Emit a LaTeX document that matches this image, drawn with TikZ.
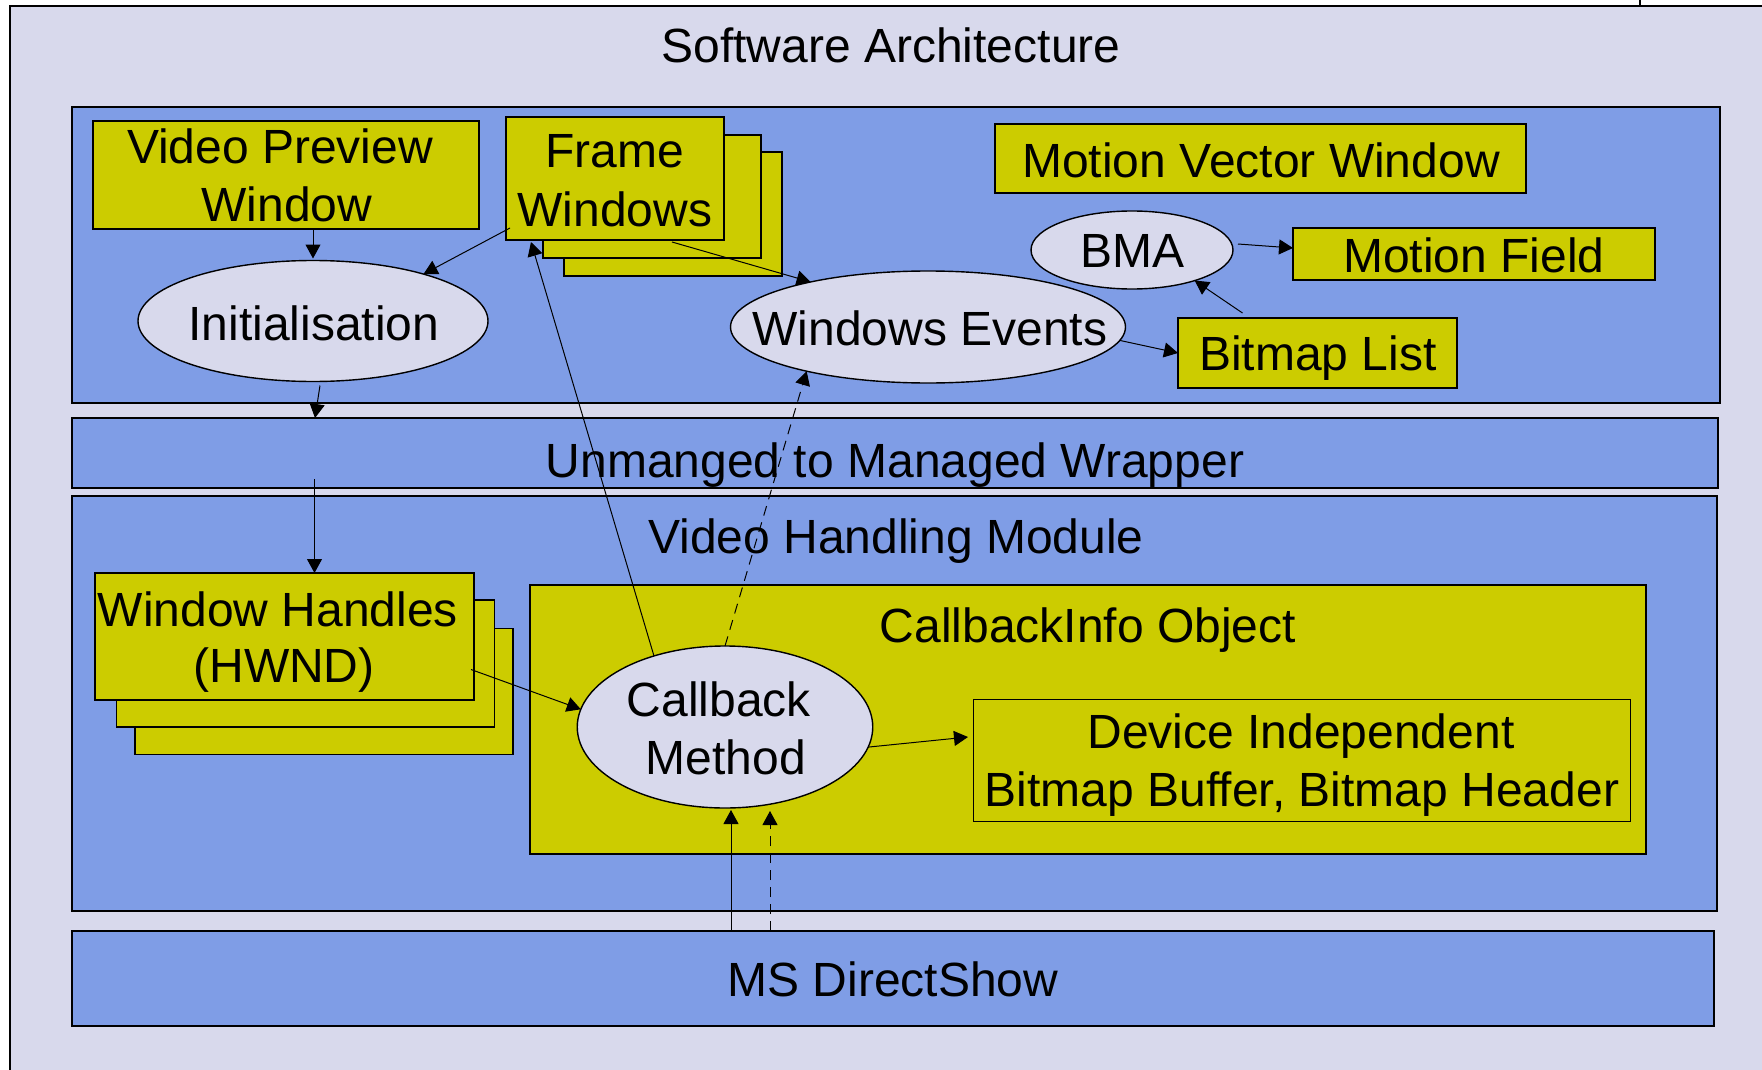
\documentclass[tikz,border=0pt]{standalone}
\usepackage{fontspec}
\setmainfont{Liberation Sans}
\usetikzlibrary{arrows.meta,calc,shapes.geometric}
\definecolor{lav}{RGB}{216,217,236}
\definecolor{panelblue}{RGB}{127,157,230}
\definecolor{olive}{RGB}{204,204,0}

\begin{document}
\begin{tikzpicture}[x=0.5pt,y=-0.5pt,
  panel/.style={rectangle,draw=black,fill=panelblue,line width=0.7pt,inner sep=0pt,outer sep=0pt},
  ybox/.style={rectangle,draw=black,fill=olive,line width=0.7pt,inner sep=0pt,outer sep=0pt},
  oval/.style={ellipse,draw=black,fill=lav,line width=0.7pt,inner sep=0pt,outer sep=0pt},
  txt/.style={anchor=base,inner sep=0pt,font=\fontsize{24pt}{29pt}\selectfont},
  link/.style={line width=0.5pt,-{Triangle[length=7pt,width=7.5pt]}},
  dlink/.style={link,dash pattern=on 5pt off 3.5pt},
]
\useasboundingbox (0,0) rectangle (1762,1070);

% page frame
\fill[lav] (10,6) rectangle (1762,1070);
\draw[line width=0.75pt] (10,1070) -- (10,6) -- (1762,6);
\draw[line width=0.75pt] (1640,0) -- (1640,6);
\node[txt] (title) at (891,63) {Software Architecture};

% layers
\node[panel,minimum width=824pt,minimum height=148pt] (gui) at (896,255) {};
\node[panel,minimum width=823pt,minimum height=35pt] (wrap) at (895,453) {};
\node[txt] (wrap-t) at (895,477) {Unmanged to Managed Wrapper};
\node[panel,minimum width=822.5pt,minimum height=207.5pt] (vhm) at (894.5,703.5) {};
\node[txt] (vhm-t) at (896,553) {Video Handling Module};
\node[panel,minimum width=821pt,minimum height=47.5pt] (ds) at (893,978.5) {};
\node[txt] (ds-t) at (893,996) {MS DirectShow};

% GUI layer
\node[ybox,minimum width=193pt,minimum height=54pt] (vpw) at (286,175) {};
\node[txt] (vpw-t1) at (280,163) {Video Preview};
\node[txt] (vpw-t2) at (287,221) {Window};

\node[ybox,minimum width=109pt,minimum height=62pt] (fw3) at (673,214) {};
\node[ybox,minimum width=109pt,minimum height=61.5pt] (fw2) at (652,196.5) {};
\node[ybox,minimum width=109pt,minimum height=61.5pt] (fw) at (615,178.5) {};
\node[txt] (fw-t1) at (615,168) {Frame};
\node[txt] (fw-t2) at (615,227) {Windows};

\node[oval,minimum width=175pt,minimum height=60.5pt] (init) at (313,321) {};
\node[txt] (init-t) at (314,340) {Initialisation};

\node[oval,minimum width=197.5pt,minimum height=56pt] (we) at (928,327) {};
\node[txt] (we-t) at (930,345) {Windows Events};

\node[ybox,minimum width=265.5pt,minimum height=34.5pt] (mvw) at (1260.5,158.5) {};
\node[txt] (mvw-t) at (1261,177) {Motion Vector Window};

\node[oval,minimum width=101pt,minimum height=39pt] (bma) at (1132,250) {};
\node[txt] (bma-t) at (1132,267) {BMA};

\node[ybox,minimum width=181pt,minimum height=26pt] (mf) at (1474,254) {};
\node[txt] (mf-t) at (1474,272) {Motion Field};

\node[ybox,minimum width=139.5pt,minimum height=35pt] (bl) at (1317.5,353) {};
\node[txt] (bl-t) at (1318,370) {Bitmap List};

% video handling layer
\node[ybox,minimum width=189pt,minimum height=63pt] (wh3) at (324,691.5) {};
\node[ybox,minimum width=189pt,minimum height=63.5pt] (wh2) at (305.5,663.5) {};
\node[ybox,minimum width=189.5pt,minimum height=63.5pt] (wh) at (284.5,636.5) {};
\node[txt] (wh-t1) at (278,626) {Window Handles};
\node[txt] (wh-t2) at (284,682) {(HWND)};

\node[ybox,minimum width=558pt,minimum height=134.5pt] (cbi) at (1088,719.5) {};
\node[txt] (cbi-t) at (1088,642) {CallbackInfo Object};

\node[oval,minimum width=147.75pt,minimum height=81pt] (cb) at (725,727) {};
\node[txt] (cb-t1) at (719,716) {Callback};
\node[txt] (cb-t2) at (726,774) {Method};

\node[ybox,line width=0.5pt,minimum width=328.5pt,minimum height=61pt] (dev) at (1301.5,760) {};
\node[txt] (dev-t1) at (1301,748) {Device Independent};
\node[txt] (dev-t2) at (1302,806) {Bitmap Buffer, Bitmap Header};

% connectors
\draw[link] (vpw.south -| init.north) -- ($(init.north)+(0,-2)$);
\draw[link] ($(fw.south west)+(4,-12)$) -- (init.23);
\draw[link] ($(fw.south)+(57,2)$) -- (we.159);
\draw[link] ($(init.south)+(7,4)$) -- ($(init.south |- wrap.north)+(2,0)$);
\draw[link] ($(wh.north |- wrap.south)+(30,-9)$) -- ($(wh.north)+(30,0)$);
\draw[link] (cb.135) -- ($(fw.south west)+(25,2)$);
\draw[dlink] (cb.north) -- (we.200);
\draw[link] ($(wh.east)+(-3,33)$) -- (cb.173);
\draw[link] (cb.-8) -- ($(dev.west)+(-5,-23)$);
\draw[link] ($(ds.north -| cb.south)+(6,0)$) -- ($(cb.south)+(6,2)$);
\draw[dlink] ($(ds.north -| cb.south)+(45,0)$) -- ($(cb.south)+(45,3)$);
\draw[link] (we.-4) -- (bl.west);
\draw[link] ($(bl.north)+(-75,-5)$) -- (bma.-26);
\draw[link] ($(bma.east)+(5,-6)$) -- ($(mf.west)+(0,-6)$);
\end{tikzpicture}
\end{document}
